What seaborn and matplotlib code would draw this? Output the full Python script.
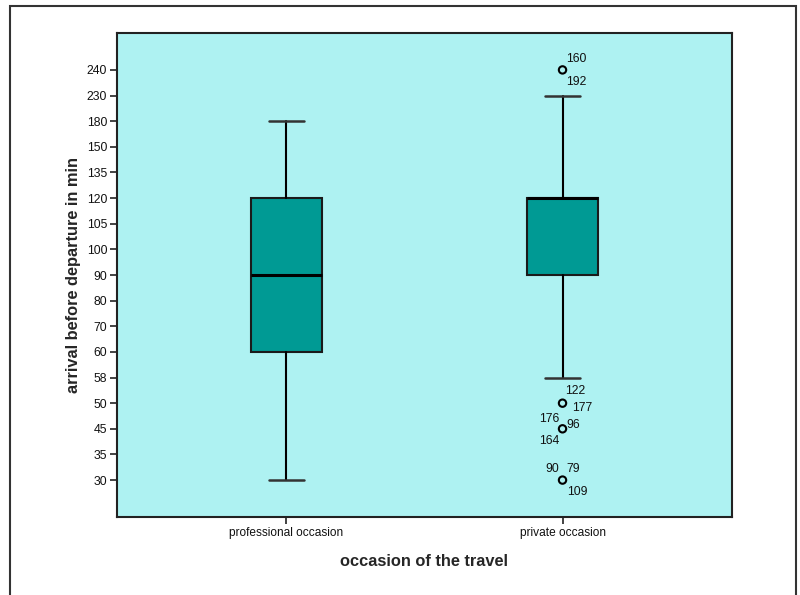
import numpy as np
import pandas as pd
import matplotlib
matplotlib.use("Agg")
import matplotlib.pyplot as plt
import seaborn as sns
from matplotlib.patches import Rectangle

# ---- data (ordinal y axis) ----
tick_values = [30, 35, 45, 50, 58, 60, 70, 80, 90, 100, 105, 120, 135, 150, 180, 230, 240]
categories = ["professional occasion", "private occasion"]
whisker_low = [30, 58]
q1 = [60, 90]
median = [90, 120]
q3 = [120, 120]
whisker_high = [180, 230]
outlier_group = ["private occasion"] * 4
outlier_values = [240, 50, 45, 30]
outlier_cases = [["160", "192"], ["122", "177"], ["176", "96", "164"], ["90", "79", "109"]]

sns.set_style("white")
plt.rcParams["font.family"] = ["Liberation Sans", "DejaVu Sans"]

rank = {v: i for i, v in enumerate(tick_values)}

fig = plt.figure(figsize=(8, 5.95), dpi=100)
ax = fig.add_axes([117 / 800, 1 - 517 / 595, (732 - 117) / 800, (517 - 33) / 595])
ax.set_facecolor("#AEF2F2")

stats = []
for i, c in enumerate(categories):
    stats.append(dict(label=c, whislo=rank[whisker_low[i]], q1=rank[q1[i]],
                      med=rank[median[i]], q3=rank[q3[i]],
                      whishi=rank[whisker_high[i]], fliers=[]))

ax.bxp(stats, positions=list(range(len(categories))), widths=0.254,
       patch_artist=True, showfliers=False,
       boxprops=dict(facecolor="#009A94", edgecolor="#1a1a1a", linewidth=1.5),
       medianprops=dict(color="black", linewidth=2.2),
       whiskerprops=dict(color="black", linewidth=1.5),
       capprops=dict(color="#333333", linewidth=1.8), capwidths=0.127)

odf = pd.DataFrame({"x": [categories.index(g) for g in outlier_group],
                    "y": [rank[v] for v in outlier_values]})
sns.scatterplot(data=odf, x="x", y="y", ax=ax, marker="o", s=28,
                facecolor="none", edgecolor="black", linewidth=1.5, zorder=5)

label_offsets = [[(14, 11), (14, -12)],
                 [(13, 12), (20, -5)],
                 [(-13, 10), (11, 4), (-13, -12)],
                 [(-10, 11), (11, 11), (15, -12)]]
for j, cases in enumerate(outlier_cases):
    xx = odf["x"][j]
    yy = odf["y"][j]
    for k, lab in enumerate(cases):
        ax.annotate(lab, (xx, yy), xytext=label_offsets[j][k], textcoords="offset pixels",
                    ha="center", va="center", fontsize=8.8, color="#111111")

ax.set_xlim(-0.614, 1.614)
ax.set_ylim(-1.44, 17.44)
ax.set_yticks(range(len(tick_values)))
ax.set_yticklabels([str(v) for v in tick_values], fontsize=8.8, color="#111111")
ax.set_xticks(range(len(categories)))
ax.set_xticklabels(categories, fontsize=8.6, color="#111111")
ax.tick_params(axis="both", direction="out", length=5, width=1.2, color="#222222", pad=2,
               left=True, bottom=True)
ax.set_xlabel("occasion of the travel", fontsize=11.8, fontweight="bold", labelpad=11)
ax.set_ylabel("arrival before departure in min", fontsize=11.8, fontweight="bold", labelpad=4)
for s in ax.spines.values():
    s.set_color("#222222")
    s.set_linewidth(1.5)

fig.patches.append(Rectangle((10 / 800, -0.02), 786 / 800, 1 - 6 / 595 + 0.02,
                             transform=fig.transFigure, fill=False,
                             edgecolor="#333333", linewidth=1.5))

fig.savefig("out.png", dpi=100)
